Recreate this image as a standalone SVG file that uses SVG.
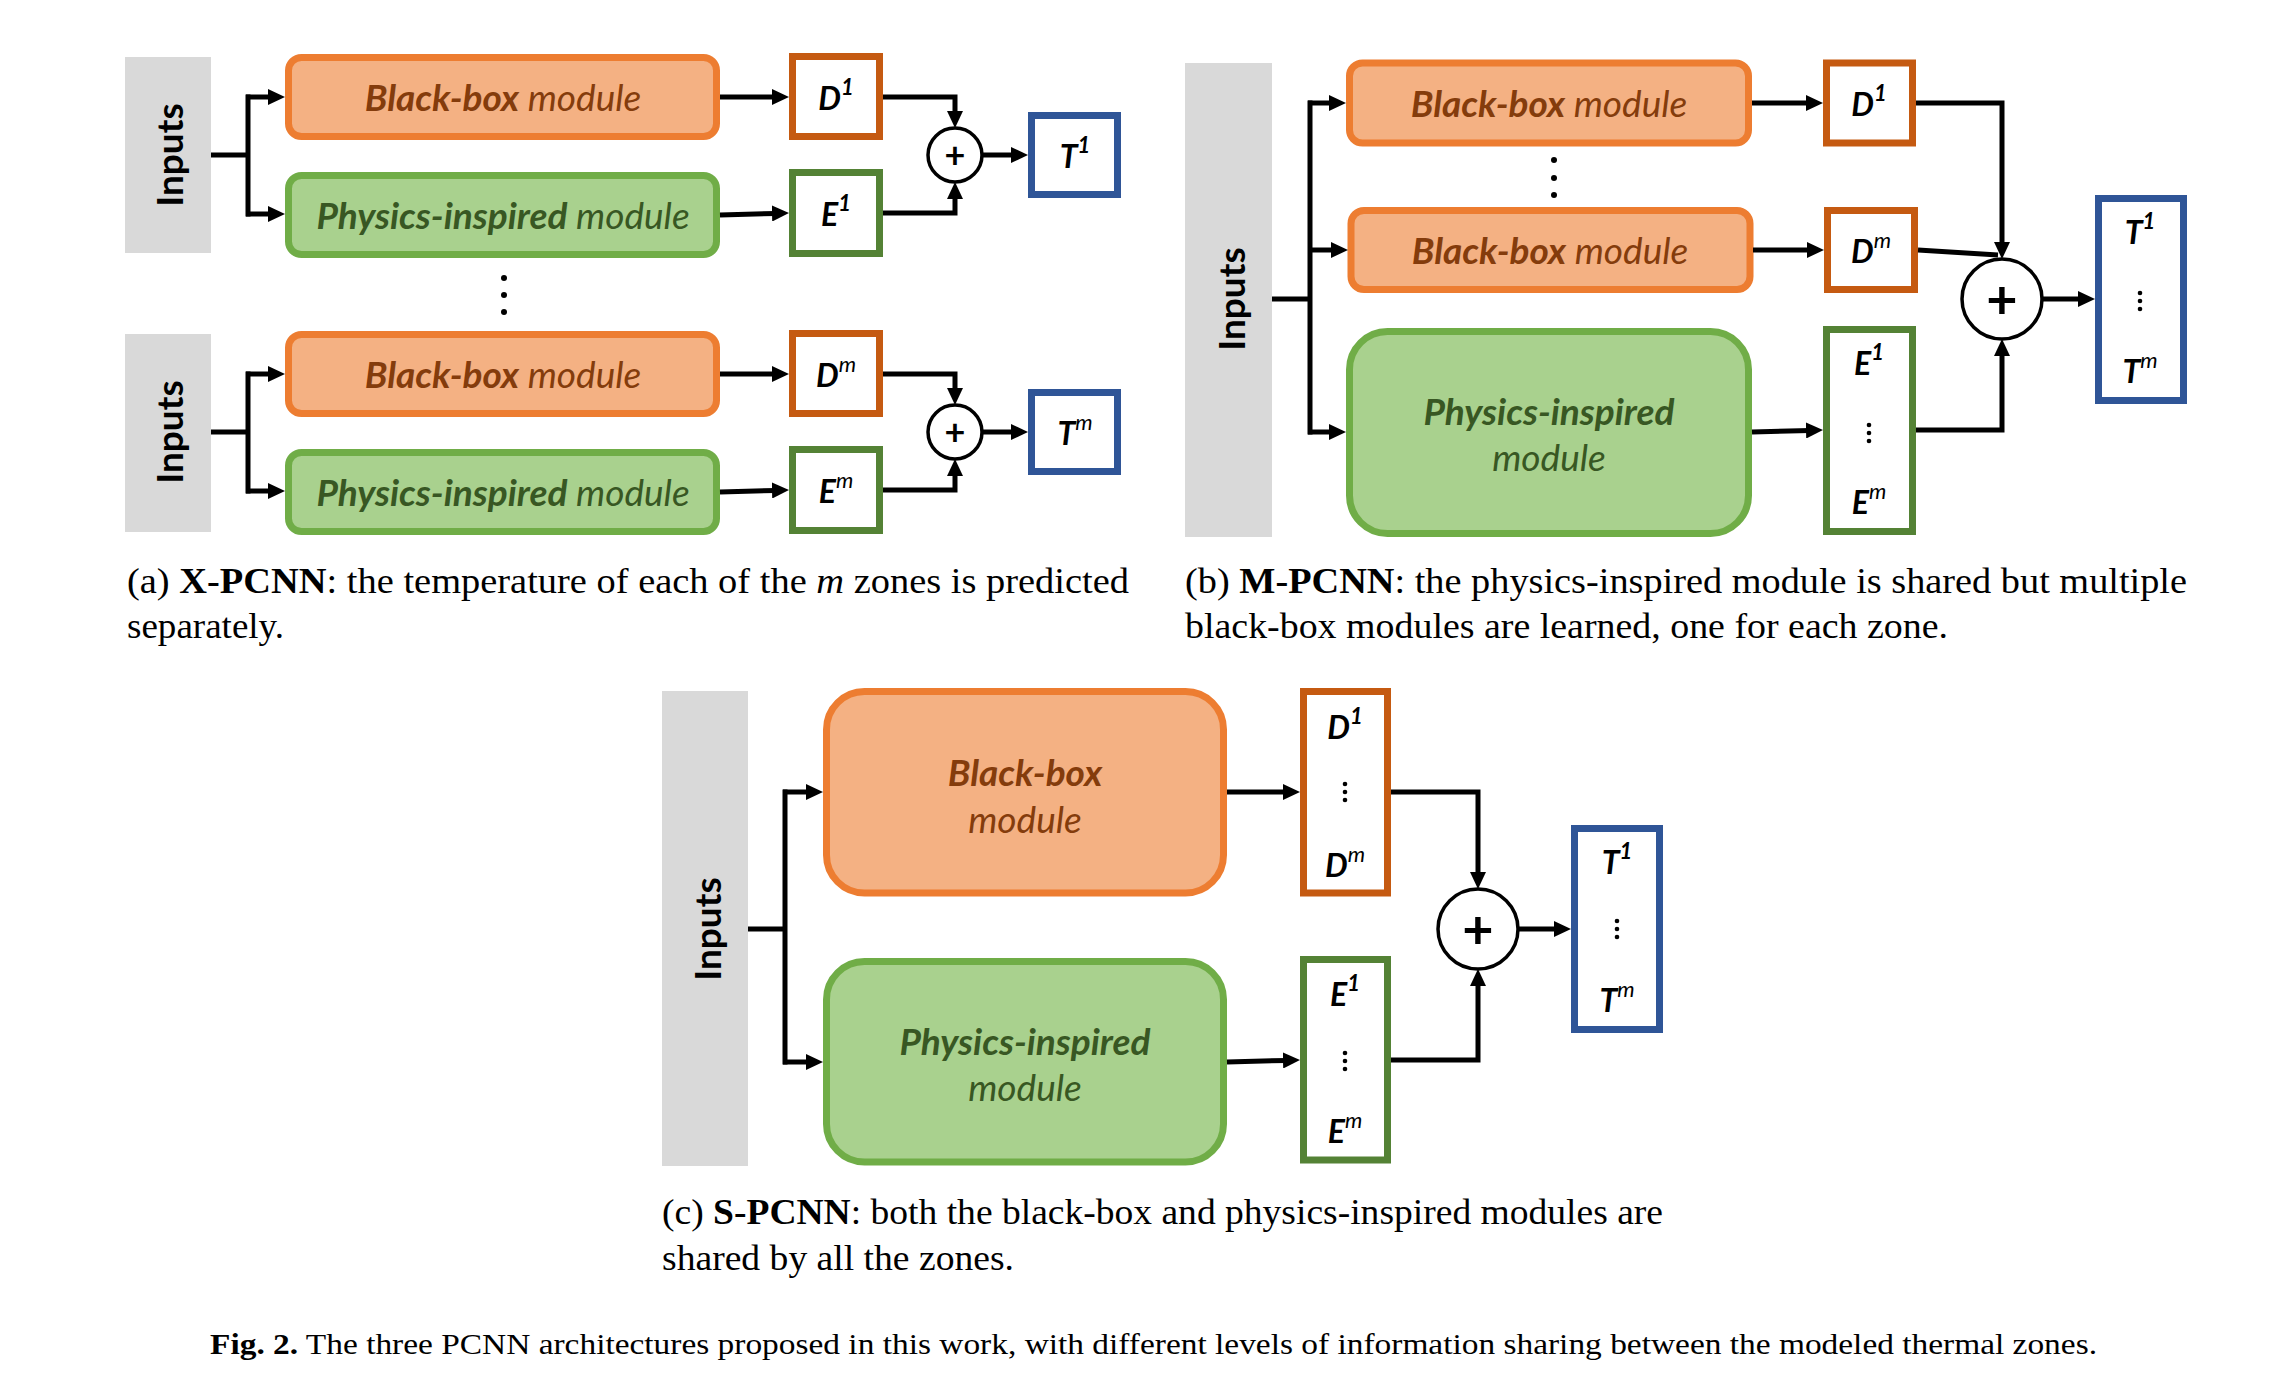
<svg xmlns="http://www.w3.org/2000/svg" width="2272" height="1384" viewBox="0 0 2272 1384">
<style>
.inp{fill:#d9d9d9}
.bb{fill:#f4b183;stroke:#ed7d31;stroke-width:7}
.ph{fill:#a9d18e;stroke:#70ad47;stroke-width:7}
.dbox{fill:#fff;stroke:#c55a11;stroke-width:7}
.ebox{fill:#fff;stroke:#548235;stroke-width:7}
.tbox{fill:#fff;stroke:#2f5597;stroke-width:7}
.sum{fill:#fff;stroke:#000;stroke-width:3.5}
.lab{font-family:Lato,"Open Sans",sans-serif;text-anchor:middle;dominant-baseline:central}
.inl{font-family:Lato,"Open Sans",sans-serif;font-weight:bold;font-size:37px;fill:#000;text-anchor:middle;dominant-baseline:central}
.bbt{fill:#843c0c;font-size:37px;font-style:italic}
.pht{fill:#385723;font-size:37px;font-style:italic}
.b{font-weight:bold}
.var{fill:#000;font-size:32px;font-style:italic;font-weight:bold}
.sup{font-size:22px;font-weight:normal}
.s1{font-size:22px;font-weight:bold}
.plus{font-family:Lato,sans-serif;font-weight:bold;text-anchor:middle;dominant-baseline:central;fill:#000}
.cap{font-family:"Liberation Serif","Times New Roman",serif;font-size:36px;fill:#000}
.fig{font-family:"Liberation Serif","Times New Roman",serif;font-size:30px;fill:#000}
.c{fill:none;stroke:#000;stroke-width:5;marker-end:url(#ah)}
.n{fill:none;stroke:#000;stroke-width:5}
</style>
<defs>
<marker id="ah" markerUnits="userSpaceOnUse" viewBox="0 0 17 16" refX="4" refY="8" markerWidth="17" markerHeight="16" orient="auto">
<path d="M0,0 L17,8 L0,16 z" fill="#000"/>
</marker>
</defs>

<!-- Panel (a) -->
<g id="a-inputs1"><rect class="inp" x="125" y="57" width="86" height="196"/><text class="inl" transform="translate(168,155) rotate(-90)">Inputs</text></g>
<g id="a-bb1"><rect class="bb" x="288.5" y="57.5" width="428" height="79" rx="13"/><text class="lab bbt" x="503" y="96"><tspan class="b">Black-box</tspan> module</text></g>
<g id="a-ph1"><rect class="ph" x="288.5" y="175.5" width="428" height="79" rx="13"/><text class="lab pht" x="503" y="214"><tspan class="b">Physics-inspired</tspan> module</text></g>
<g id="a-d1"><rect class="dbox" x="792.5" y="56.5" width="87" height="80"/><text class="lab var" x="836" y="97">D<tspan class="s1" dy="-11">1</tspan></text></g>
<g id="a-e1"><rect class="ebox" x="792.5" y="172.5" width="87" height="81"/><text class="lab var" x="836" y="213">E<tspan class="s1" dy="-11">1</tspan></text></g>
<g id="a-sum1"><circle class="sum" cx="955" cy="155" r="27"/><text class="plus" x="955" y="154" font-size="36">+</text></g>
<g id="a-t1"><rect class="tbox" x="1031.5" y="115.5" width="86" height="79"/><text class="lab var" x="1075" y="155">T<tspan class="s1" dy="-11">1</tspan></text></g>

<g id="a-dots"><circle cx="504" cy="278" r="3"/><circle cx="504" cy="295" r="3"/><circle cx="504" cy="312" r="3"/></g>

<g id="a-inputs2"><rect class="inp" x="125" y="334" width="86" height="198"/><text class="inl" transform="translate(168,432) rotate(-90)">Inputs</text></g>
<g id="a-bbm"><rect class="bb" x="288.5" y="334.5" width="428" height="79" rx="13"/><text class="lab bbt" x="503" y="373"><tspan class="b">Black-box</tspan> module</text></g>
<g id="a-phm"><rect class="ph" x="288.5" y="452.5" width="428" height="79" rx="13"/><text class="lab pht" x="503" y="491"><tspan class="b">Physics-inspired</tspan> module</text></g>
<g id="a-dm"><rect class="dbox" x="792.5" y="333.5" width="87" height="80"/><text class="lab var" x="836" y="374">D<tspan class="sup" dy="-11">m</tspan></text></g>
<g id="a-em"><rect class="ebox" x="792.5" y="449.5" width="87" height="81"/><text class="lab var" x="836" y="490">E<tspan class="sup" dy="-11">m</tspan></text></g>
<g id="a-summ"><circle class="sum" cx="955" cy="432" r="27"/><text class="plus" x="955" y="431" font-size="36">+</text></g>
<g id="a-tm"><rect class="tbox" x="1031.5" y="392.5" width="86" height="79"/><text class="lab var" x="1075" y="432">T<tspan class="sup" dy="-11">m</tspan></text></g>

<text class="cap" x="127" y="593" textLength="1002" lengthAdjust="spacingAndGlyphs">(a) <tspan font-weight="bold">X-PCNN</tspan>: the temperature of each of the <tspan font-style="italic">m</tspan> zones is predicted</text>
<text class="cap" x="127" y="638" textLength="157" lengthAdjust="spacingAndGlyphs">separately.</text>

<!-- Panel (b) -->
<g id="b-inputs"><rect class="inp" x="1185" y="63" width="87" height="474"/><text class="inl" transform="translate(1230,299) rotate(-90)">Inputs</text></g>
<g id="b-bb1"><rect class="bb" x="1349.5" y="63" width="399" height="80" rx="13"/><text class="lab bbt" x="1549" y="102"><tspan class="b">Black-box</tspan> module</text></g>
<g id="b-dots"><circle cx="1554" cy="160" r="3"/><circle cx="1554" cy="178" r="3"/><circle cx="1554" cy="195" r="3"/></g>
<g id="b-bbm"><rect class="bb" x="1351" y="210.5" width="399" height="79" rx="13"/><text class="lab bbt" x="1550" y="249"><tspan class="b">Black-box</tspan> module</text></g>
<g id="b-ph"><rect class="ph" x="1349.5" y="331.5" width="399" height="202" rx="38"/><text class="lab pht" x="1549" y="410"><tspan class="b">Physics-inspired</tspan></text><text class="lab pht" x="1549" y="456">module</text></g>
<g id="b-d1"><rect class="dbox" x="1826.5" y="63" width="86" height="80"/><text class="lab var" x="1869" y="103">D<tspan class="s1" dy="-11">1</tspan></text></g>
<g id="b-dm"><rect class="dbox" x="1827.5" y="210.5" width="87" height="79"/><text class="lab var" x="1871" y="250">D<tspan class="sup" dy="-11">m</tspan></text></g>
<g id="b-e"><rect class="ebox" x="1826.5" y="329.5" width="86" height="202"/><text class="lab var" x="1869" y="362">E<tspan class="s1" dy="-11">1</tspan></text><circle cx="1869" cy="425" r="2.3"/><circle cx="1869" cy="433" r="2.3"/><circle cx="1869" cy="441" r="2.3"/><text class="lab var" x="1869" y="501">E<tspan class="sup" dy="-11">m</tspan></text></g>
<g id="b-sum"><circle class="sum" cx="2002" cy="299" r="40"/><text class="plus" x="2002" y="298" font-size="54">+</text></g>
<g id="b-t"><rect class="tbox" x="2098.5" y="198.5" width="85" height="202"/><text class="lab var" x="2140" y="231">T<tspan class="s1" dy="-11">1</tspan></text><circle cx="2140" cy="293" r="2.3"/><circle cx="2140" cy="301" r="2.3"/><circle cx="2140" cy="309" r="2.3"/><text class="lab var" x="2140" y="370">T<tspan class="sup" dy="-11">m</tspan></text></g>

<text class="cap" x="1185" y="593" textLength="1002" lengthAdjust="spacingAndGlyphs">(b) <tspan font-weight="bold">M-PCNN</tspan>: the physics-inspired module is shared but multiple</text>
<text class="cap" x="1185" y="638" textLength="763" lengthAdjust="spacingAndGlyphs">black-box modules are learned, one for each zone.</text>

<!-- Panel (c) -->
<g id="c-inputs"><rect class="inp" x="662" y="691" width="86" height="475"/><text class="inl" transform="translate(706,929) rotate(-90)">Inputs</text></g>
<g id="c-bb"><rect class="bb" x="826.5" y="691.5" width="397" height="201.5" rx="38"/><text class="lab bbt" x="1025" y="771" font-weight="bold">Black-box</text><text class="lab bbt" x="1025" y="818">module</text></g>
<g id="c-ph"><rect class="ph" x="826.5" y="961.5" width="397" height="200.5" rx="38"/><text class="lab pht" x="1025" y="1040" font-weight="bold">Physics-inspired</text><text class="lab pht" x="1025" y="1086">module</text></g>
<g id="c-d"><rect class="dbox" x="1303.5" y="691.5" width="84" height="201.5"/><text class="lab var" x="1345" y="726">D<tspan class="s1" dy="-11">1</tspan></text><circle cx="1345" cy="784" r="2.3"/><circle cx="1345" cy="792" r="2.3"/><circle cx="1345" cy="800" r="2.3"/><text class="lab var" x="1345" y="864">D<tspan class="sup" dy="-11">m</tspan></text></g>
<g id="c-e"><rect class="ebox" x="1303.5" y="959.5" width="84" height="200.5"/><text class="lab var" x="1345" y="993">E<tspan class="s1" dy="-11">1</tspan></text><circle cx="1345" cy="1053" r="2.3"/><circle cx="1345" cy="1061" r="2.3"/><circle cx="1345" cy="1069" r="2.3"/><text class="lab var" x="1345" y="1130">E<tspan class="sup" dy="-11">m</tspan></text></g>
<g id="c-sum"><circle class="sum" cx="1478" cy="929" r="40"/><text class="plus" x="1478" y="928" font-size="54">+</text></g>
<g id="c-t"><rect class="tbox" x="1574.5" y="828.5" width="85" height="201"/><text class="lab var" x="1617" y="861">T<tspan class="s1" dy="-11">1</tspan></text><circle cx="1617" cy="921" r="2.3"/><circle cx="1617" cy="929" r="2.3"/><circle cx="1617" cy="937" r="2.3"/><text class="lab var" x="1617" y="999">T<tspan class="sup" dy="-11">m</tspan></text></g>

<text class="cap" x="662" y="1224" textLength="1001" lengthAdjust="spacingAndGlyphs">(c) <tspan font-weight="bold">S-PCNN</tspan>: both the black-box and physics-inspired modules are</text>
<text class="cap" x="662" y="1270" textLength="352" lengthAdjust="spacingAndGlyphs">shared by all the zones.</text>

<text class="fig" x="210" y="1354" textLength="1887" lengthAdjust="spacingAndGlyphs"><tspan font-weight="bold">Fig. 2.</tspan>  The three PCNN architectures proposed in this work, with different levels of information sharing between the modeled thermal zones.</text>

<!-- Connectors -->
<g id="connectors">
<!-- a top -->
<polyline class="n" points="211,155 248,155"/>
<polyline class="n" points="248,94.5 248,216.5"/>
<line class="c" x1="246" y1="97" x2="272" y2="97"/>
<line class="c" x1="246" y1="214" x2="272" y2="214"/>
<line class="c" x1="720" y1="97" x2="776" y2="97"/>
<line class="c" x1="720" y1="215" x2="776" y2="213.4"/>
<polyline class="c" points="883,97 955,97 955,115"/>
<polyline class="c" points="883,213 955,213 955,195"/>
<line class="c" x1="982" y1="155" x2="1015" y2="155"/>
<!-- a bottom -->
<polyline class="n" points="211,432 248,432"/>
<polyline class="n" points="248,371.5 248,493.5"/>
<line class="c" x1="246" y1="374" x2="272" y2="374"/>
<line class="c" x1="246" y1="491" x2="272" y2="491"/>
<line class="c" x1="720" y1="374" x2="776" y2="374"/>
<line class="c" x1="720" y1="492" x2="776" y2="490.4"/>
<polyline class="c" points="883,374 955,374 955,392"/>
<polyline class="c" points="883,490 955,490 955,472"/>
<line class="c" x1="982" y1="432" x2="1015" y2="432"/>
<!-- b -->
<polyline class="n" points="1272,299 1310,299"/>
<polyline class="n" points="1310,100.5 1310,434.5"/>
<line class="c" x1="1308" y1="103" x2="1333" y2="103"/>
<line class="c" x1="1308" y1="250" x2="1335" y2="250"/>
<line class="c" x1="1308" y1="432" x2="1333" y2="432"/>
<line class="c" x1="1752" y1="103" x2="1810" y2="103"/>
<line class="c" x1="1753" y1="250" x2="1811" y2="250"/>
<line class="c" x1="1752" y1="432" x2="1810" y2="430.4"/>
<polyline class="c" points="1916,103 2002,103 2002,246"/>
<line class="n" x1="1918" y1="250" x2="1998" y2="255"/>
<polyline class="c" points="1916,430 2002,430 2002,352"/>
<line class="c" x1="2042" y1="299" x2="2082" y2="299"/>
<!-- c -->
<polyline class="n" points="748,929 785,929"/>
<polyline class="n" points="785,789.5 785,1064.5"/>
<line class="c" x1="783" y1="792" x2="810" y2="792"/>
<line class="c" x1="783" y1="1062" x2="810" y2="1062"/>
<line class="c" x1="1227" y1="792" x2="1287" y2="792"/>
<line class="c" x1="1227" y1="1062" x2="1287" y2="1060.4"/>
<polyline class="c" points="1391,792 1478,792 1478,876"/>
<polyline class="c" points="1391,1060 1478,1060 1478,982"/>
<line class="c" x1="1518" y1="929" x2="1558" y2="929"/>
</g>
</svg>
